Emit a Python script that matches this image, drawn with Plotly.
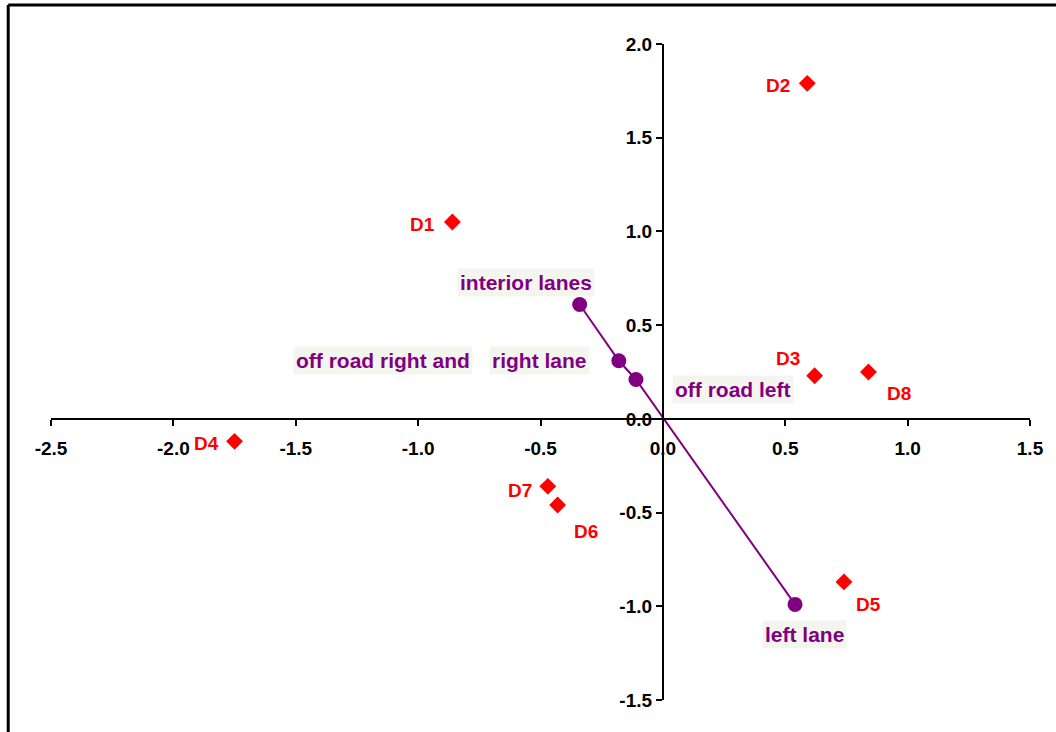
import plotly.graph_objects as go

# Driver scores (red diamonds)
driver_names = ["D1", "D2", "D3", "D4", "D5", "D6", "D7", "D8"]
driver_x = [-0.86, 0.59, 0.62, -1.75, 0.74, -0.43, -0.47, 0.84]
driver_y = [1.05, 1.79, 0.23, -0.12, -0.87, -0.46, -0.36, 0.25]
# label offsets in pixels (dx right, dy down) for each driver
driver_dx = [-30, -29, -27, -28, 25, 28, -28, 31]
driver_dy = [2, 2, -17, 2, 23, 26, 4, 21]

# Lane position categories (purple line)
lane_x = [-0.34, -0.18, -0.11, 0.54]
lane_y = [0.61, 0.31, 0.21, -0.99]
lane_labels = ["interior lanes", "off road right and", "right lane", "off road left", "left lane"]
lane_label_point = [0, 1, 1, 2, 3]
lane_dx = [-54, -236, -79, 97, 9]
lane_dy = [-22, 0, 0, 10, 30]

x_ticks = [-2.5, -2.0, -1.5, -1.0, -0.5, 0.0, 0.5, 1.0, 1.5]
y_ticks = [-1.5, -1.0, -0.5, 0.0, 0.5, 1.0, 1.5, 2.0]

FONT = "Liberation Sans, Arial, sans-serif"
RED = "#ff0000"
PURPLE = "#800080"


def tick_text(values):
    # plain hyphen for negatives, bold labels
    return ["<b>%.1f</b>" % v for v in values]


fig = go.Figure()

fig.add_trace(go.Scatter(
    x=lane_x, y=lane_y, mode="lines+markers",
    line=dict(color=PURPLE, width=2),
    marker=dict(symbol="circle", size=15, color=PURPLE),
    hoverinfo="skip", showlegend=False,
))

fig.add_trace(go.Scatter(
    x=driver_x, y=driver_y, mode="markers",
    marker=dict(symbol="diamond", size=13, color=RED),
    hoverinfo="skip", showlegend=False,
))

annotations = []
for name, x, y, dx, dy in zip(driver_names, driver_x, driver_y, driver_dx, driver_dy):
    annotations.append(dict(
        x=x, y=y, xref="x", yref="y", text="<b>%s</b>" % name, showarrow=False,
        xshift=dx, yshift=-dy,
        font=dict(family=FONT, size=19, color=RED),
    ))

for text, idx, dx, dy in zip(lane_labels, lane_label_point, lane_dx, lane_dy):
    annotations.append(dict(
        x=lane_x[idx], y=lane_y[idx], xref="x", yref="y", text="<b>%s</b>" % text,
        showarrow=False, xshift=dx, yshift=-dy,
        bgcolor="#f5f5f0", borderpad=2,
        font=dict(family=FONT, size=21, color=PURPLE),
    ))

axis_common = dict(
    showgrid=False, zeroline=False, showline=True, linecolor="black",
    linewidth=2, ticks="outside", ticklen=6, tickwidth=2, tickcolor="black",
    anchor="free",
    tickfont=dict(family=FONT, size=19, color="black"),
)

fig.update_layout(
    width=1056, height=732,
    margin=dict(l=51, r=22, t=44, b=32),
    paper_bgcolor="white", plot_bgcolor="white",
    xaxis=dict(range=[-2.5, 1.5], tickvals=x_ticks, ticktext=tick_text(x_ticks),
               ticklabelstandoff=6, position=1.5 / 3.5, **axis_common),
    yaxis=dict(range=[-1.5, 2.0], tickvals=y_ticks, ticktext=tick_text(y_ticks),
               position=2.5 / 4.0, **axis_common),
    annotations=annotations,
    shapes=[
        # outer frame: top and left edges
        dict(type="line", xref="paper", yref="paper",
             x0=-0.0437, x1=1.03, y0=1.0595, y1=1.0595,
             line=dict(color="black", width=3)),
        dict(type="line", xref="paper", yref="paper",
             x0=-0.0437, x1=-0.0437, y0=1.0595, y1=-0.07,
             line=dict(color="black", width=3)),
    ],
)

fig.write_html("out.html")
